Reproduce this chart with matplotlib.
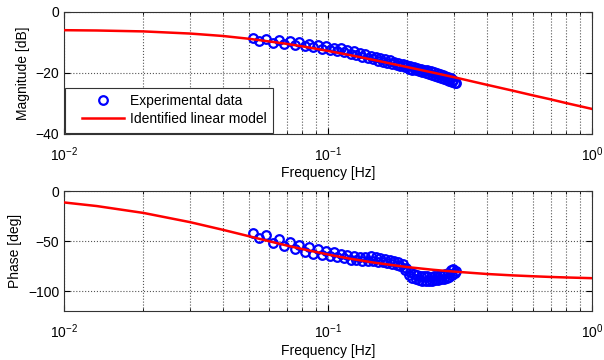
import matplotlib
matplotlib.use("Agg")
import matplotlib.pyplot as plt
import numpy as np
from matplotlib.ticker import LogLocator, NullFormatter
from matplotlib.legend_handler import HandlerLine2D

plt.rcParams['font.family'] = ['Liberation Sans', 'DejaVu Sans']
plt.rcParams['mathtext.fontset'] = 'custom'
plt.rcParams['mathtext.rm'] = 'Liberation Sans'

# Identified linear model
model_f = [0.01, 0.0133, 0.02, 0.03, 0.04, 0.05, 0.06, 0.07, 0.08, 0.1, 0.12,
           0.15, 0.2, 0.25, 0.3, 0.4, 0.5, 0.6, 0.7, 0.8, 1.0]
model_mag = [-6.0, -6.1, -6.4, -7.1, -7.9, -8.8, -9.7, -10.5, -11.3, -12.8, -14.1,
             -15.8, -18.1, -19.9, -21.4, -23.9, -25.8, -27.4, -28.7, -29.9, -31.8]
model_phase = [-11.3, -14.9, -21.8, -31.0, -38.7, -45.0, -50.2, -54.5, -58.0, -63.4, -67.4,
               -71.6, -76.0, -78.7, -80.5, -82.9, -84.3, -85.2, -85.9, -86.4, -87.1]

exp_f = [0.052, 0.055, 0.058, 0.062, 0.065, 0.068, 0.072, 0.075, 0.078, 0.082,
         0.085, 0.088, 0.092, 0.095, 0.098, 0.102, 0.105, 0.108, 0.112, 0.115,
         0.118, 0.122, 0.125, 0.128, 0.132, 0.135, 0.138, 0.142, 0.145, 0.148,
         0.152, 0.155, 0.158, 0.162, 0.165, 0.168, 0.172, 0.175, 0.178, 0.182,
         0.185, 0.188, 0.192, 0.195, 0.198, 0.202, 0.205, 0.208, 0.212, 0.215,
         0.218, 0.222, 0.225, 0.228, 0.232, 0.235, 0.238, 0.242, 0.245, 0.248,
         0.252, 0.255, 0.258, 0.262, 0.265, 0.268, 0.272, 0.275, 0.278, 0.282,
         0.285, 0.288, 0.292, 0.295, 0.298, 0.302, 0.305]
exp_mag = [-8.6, -9.4, -8.9, -10.1, -9.2, -10.5, -9.7, -10.9, -10.0, -11.3,
           -10.4, -11.6, -10.9, -12.1, -11.2, -12.5, -11.7, -12.9, -12.0, -13.3,
           -12.5, -13.8, -12.9, -14.2, -13.4, -14.7, -13.8, -15.1, -14.3, -15.5,
           -14.8, -16.0, -15.1, -16.4, -15.5, -16.8, -15.9, -17.1, -16.3, -17.5,
           -16.7, -17.9, -17.0, -18.2, -17.3, -18.6, -17.7, -18.9, -18.0, -19.2,
           -18.3, -19.5, -18.6, -19.8, -18.9, -20.1, -19.2, -20.4, -19.5, -20.7,
           -19.8, -21.0, -20.0, -21.3, -20.3, -21.6, -20.6, -21.9, -20.9, -22.2,
           -21.2, -22.5, -21.6, -22.9, -22.2, -23.3, -23.4]
exp_phase = [-42, -47, -44, -52, -48, -55, -51, -58, -54, -61,
             -56, -63, -58, -64, -60, -65, -61, -66, -63, -67,
             -64, -69, -65, -69, -66, -70, -66, -70, -65, -70,
             -66, -71, -67, -71, -68, -72, -69, -73, -70, -74,
             -71, -75, -73, -79, -77, -84, -81, -87, -83, -88,
             -84, -89, -85, -90, -85, -90, -85, -90, -86, -90,
             -85, -89, -85, -89, -84, -88, -84, -88, -83, -87,
             -82, -86, -79, -84, -78, -82, -80]

fig = plt.figure(figsize=(6.04, 3.6), dpi=100)
ax1 = fig.add_axes([0.106, 0.628, 0.874, 0.339])
ax2 = fig.add_axes([0.106, 0.136, 0.874, 0.333])

def style(ax, ylim, yticks, ylabel):
    ax.set_xscale('log')
    ax.set_xlim(0.01, 1.0)
    ax.set_ylim(*ylim)
    ax.set_yticks(yticks)
    ax.xaxis.set_major_locator(LogLocator(base=10, numticks=10))
    ax.xaxis.set_minor_locator(LogLocator(base=10, subs=np.arange(2, 10), numticks=20))
    ax.xaxis.set_minor_formatter(NullFormatter())
    ax.grid(True, which='major', linestyle=':', color='#555555', linewidth=0.8)
    ax.grid(True, which='minor', axis='x', linestyle=':', color='#555555', linewidth=0.8)
    ax.tick_params(which='both', direction='in', top=True, right=True, labelsize=10)
    ax.tick_params(axis='x', which='major', pad=8, length=4)
    ax.tick_params(axis='x', which='minor', length=2)
    ax.tick_params(axis='y', length=4)
    ax.set_xlabel('Frequency [Hz]', fontsize=10, labelpad=2)
    ax.set_ylabel(ylabel, fontsize=10)
    for s in ax.spines.values():
        s.set_linewidth(0.8)
        s.set_color('#333333')

mk = dict(mfc='none', mec='#0000ff', ms=6.2, mew=1.6)
ax1.plot(exp_f, exp_mag, 'o', label='Experimental data', zorder=3, **mk)
ax1.plot(model_f, model_mag, '-', color='#ff0000', lw=1.8,
         label='Identified linear model', zorder=4)
style(ax1, (-40, 0), [-40, -20, 0], 'Magnitude [dB]')
hm = HandlerLine2D(xpad=0.75)
h, l = ax1.get_legend_handles_labels()
leg = ax1.legend(h, l, loc='lower left', fontsize=10, fancybox=False, framealpha=1,
                 edgecolor='#333333', handlelength=3.8, handletextpad=0.4,
                 borderaxespad=0.1, borderpad=0.45, labelspacing=0.3,
                 handler_map={hh: hm for hh in h})
leg.get_frame().set_linewidth(0.8)

ax2.plot(exp_f, exp_phase, 'o', zorder=3, **mk)
ax2.plot(model_f, model_phase, '-', color='#ff0000', lw=1.8, zorder=4)
style(ax2, (-120, 0), [-100, -50, 0], 'Phase [deg]')

fig.savefig('out.png', dpi=100)
